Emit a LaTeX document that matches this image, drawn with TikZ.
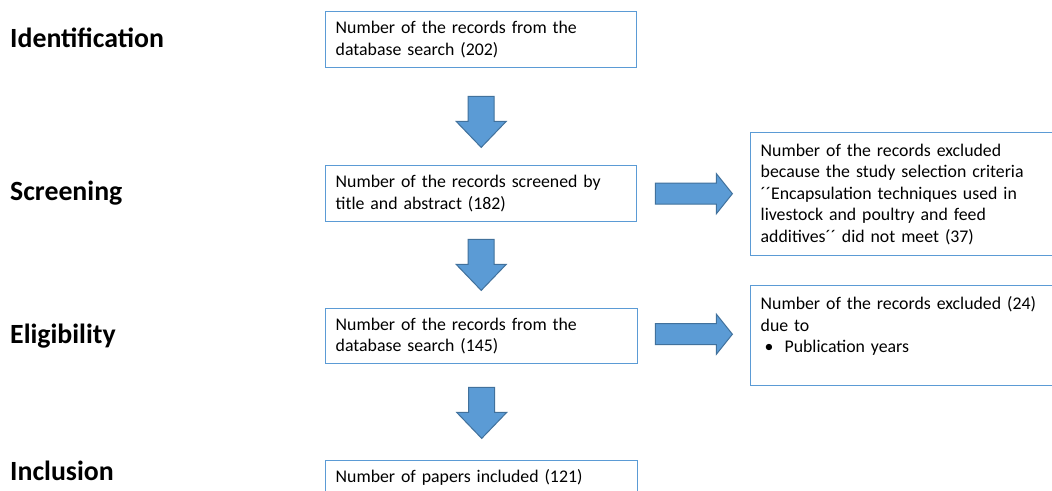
\documentclass[tikz,border=0pt]{standalone}
\usepackage{fontspec}
\setmainfont{Carlito}
\usetikzlibrary{calc}
\definecolor{boxblue}{HTML}{5B9BD5}
\definecolor{arrowfill}{HTML}{5B9BD5}
\definecolor{arrowline}{HTML}{41719C}
\tikzset{
  stage/.style={anchor=base west,inner sep=0pt,font=\fontsize{27.8}{32}\selectfont\bfseries},
  record/.style={draw=boxblue,line width=1.4pt,fill=white,anchor=north west,align=left,
    inner xsep=10pt,inner ysep=3pt,font=\fontsize{17.8}{21.5}\selectfont},
  blockarrow/.style={fill=arrowfill,draw=arrowline,line width=1pt,line join=miter},
  downarr/.pic={\draw[blockarrow](-13,0)--(-13,25)--(-25,25)--(0,51)--(25,25)--(13,25)--(13,0)--cycle;},
  rightarr/.pic={\draw[blockarrow](0,-10.5)--(61,-10.5)--(61,-20)--(77,0)--(61,20)--(61,10.5)--(0,10.5)--cycle;}
}
\begin{document}
\begin{tikzpicture}[x=1pt,y=-1pt]
        \useasboundingbox(0,0)rectangle(1052,490);
        \fill[white](0,0)rectangle(1052,490);
        \clip(0,0)rectangle(1052,490);
        % Stage labels
        \node[stage](identlabel)at(10,47){Identification};
        \node[stage](screenlabel)at(10,200){Screening};
        \node[stage](eliglabel)at(10,343){Eligibility};
        \node[stage](incllabel)at(10,480){Inclusion};
        % Record boxes
        \node[record,text width=291pt,minimum height=56pt](ident)at(325,11){Number of the records from the\\database search (202)};
        \node[record,text width=291pt,minimum height=56pt](screen)at(325,165){Number of the records screened by\\title and abstract (182)};
        \node[record,text width=292pt,minimum height=55pt](elig)at(325,308){Number of the records from the\\database search (145)};
        \node[record,text width=292pt,minimum height=33pt](incl)at(325,460){Number of papers included (121)};
        % Excluded boxes
        \node[record,text width=300pt,minimum height=123pt](exclsel)at(750,132){Number of the records excluded\\because the study selection criteria\\´´Encapsulation techniques used in\\livestock and poultry and feed\\additives´´ did not meet (37)};
        \node[record,text width=300pt,minimum height=100pt](exclyear)at(750,285){Number of the records excluded (24)\\due to\\\hspace*{4pt}\textbullet\hspace{11pt}Publication years\\\mbox{}};
        % Block arrows
        \pic(downa)at($(ident.south)+(0,28)$){downarr};
        \pic(downb)at($(screen.south)+(0,17)$){downarr};
        \pic(downc)at($(elig.south)+(0,23)$){downarr};
        \pic(righta)at($(screen.east)+(18,0)$){rightarr};
        \pic(rightb)at($(elig.east)+(17,-2)$){rightarr};
    \end{tikzpicture}
\end{document}
